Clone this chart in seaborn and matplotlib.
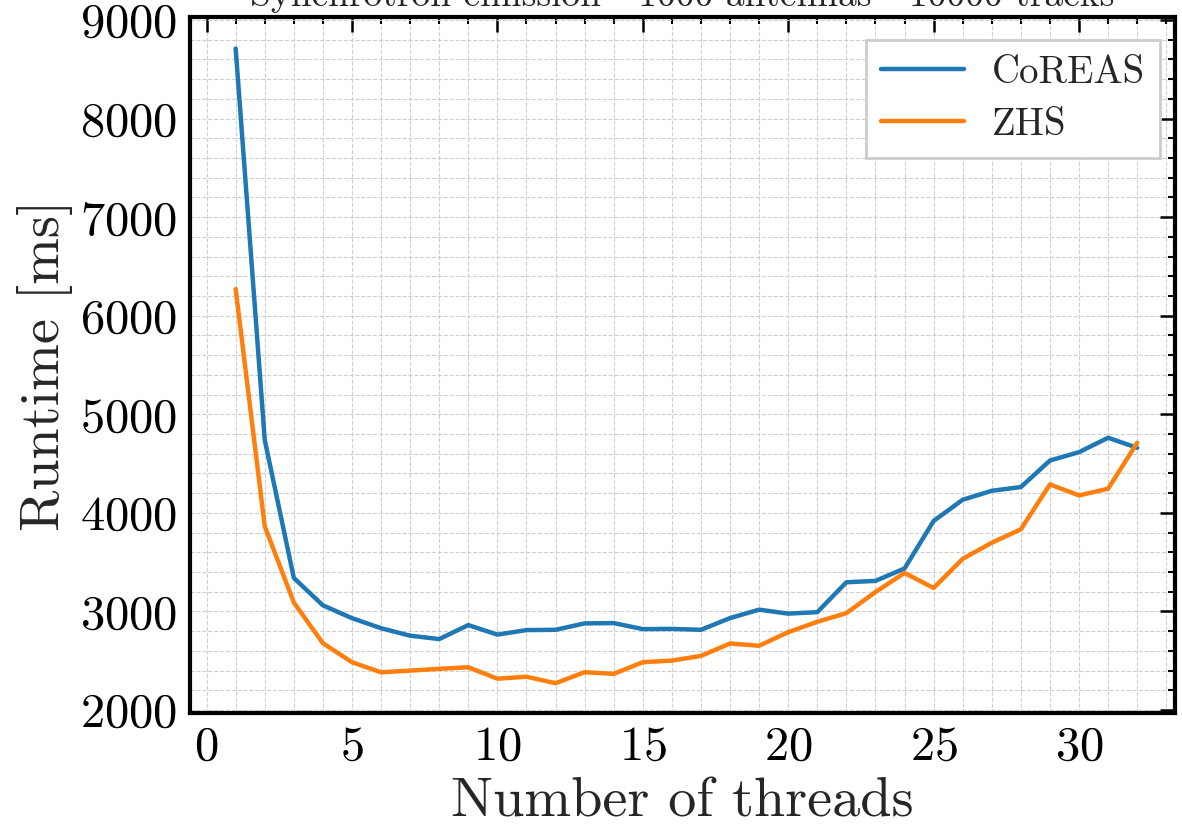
import numpy as np
import pandas as pd
import matplotlib
matplotlib.use("Agg")
import matplotlib.pyplot as plt
from matplotlib.ticker import MultipleLocator
import seaborn as sns

# Runtime per thread count for the two radio codes
threads = list(range(1, 33))
coreas_ms = [8710, 4740, 3340, 3062, 2932, 2830, 2754, 2720, 2862, 2765,
             2811, 2814, 2879, 2882, 2821, 2823, 2814, 2933, 3018, 2978,
             2993, 3296, 3310, 3436, 3918, 4133, 4224, 4262, 4531, 4616,
             4762, 4660]
zhs_ms = [6270, 3864, 3091, 2678, 2485, 2383, 2400, 2418, 2434, 2318,
          2338, 2272, 2384, 2367, 2485, 2502, 2549, 2675, 2652, 2790,
          2895, 2983, 3197, 3391, 3238, 3534, 3697, 3833, 4289, 4177,
          4245, 4711]
codes = ["CoREAS", "ZHS"]
colors = ["#1f77b4", "#ff7f0e"]

title = "Synchrotron emission - 1000 antennas - 10000 tracks"
xlabel = "Number of threads"
ylabel = "Runtime [ms]"

df = pd.DataFrame({
    "threads": threads * 2,
    "runtime": coreas_ms + zhs_ms,
    "code": [codes[0]] * len(threads) + [codes[1]] * len(threads),
})

sns.set_style("white")
plt.rcParams["font.family"] = ["cmr10"]
plt.rcParams["mathtext.fontset"] = "cm"
plt.rcParams["axes.formatter.use_mathtext"] = True

fig = plt.figure(figsize=(11.82, 8.38), dpi=100)
ax = fig.add_axes([190 / 1182, 1 - 713 / 838, 985 / 1182, 696 / 838])

sns.lineplot(data=df, x="threads", y="runtime", hue="code",
             palette=dict(zip(codes, colors)), linewidth=3.2, ax=ax)

ax.set_xlim(-0.57, 33.3)
ax.set_ylim(1970, 9030)
ax.xaxis.set_major_locator(MultipleLocator(5))
ax.xaxis.set_minor_locator(MultipleLocator(1))
ax.yaxis.set_major_locator(MultipleLocator(1000))
ax.yaxis.set_minor_locator(MultipleLocator(200))

ax.grid(which="both", linestyle="--", color="#cfcfcf", linewidth=0.8)
ax.set_axisbelow(True)

for sp in ax.spines.values():
    sp.set_linewidth(3.0)
    sp.set_color("black")

ax.tick_params(which="both", direction="in", top=True, right=True,
               labelsize=35, colors="black")
ax.tick_params(which="major", length=11, width=1.8, pad=9)
ax.tick_params(which="minor", length=5, width=1.5)

ax.set_xlabel(xlabel, fontsize=40.5, labelpad=6)
ax.set_ylabel(ylabel, fontsize=40.5, labelpad=5)
ax.set_title(title, fontsize=27, pad=8)

leg = ax.legend(loc="upper right", bbox_to_anchor=(0.9848, 0.967),
                borderaxespad=0, fontsize=28, frameon=True, fancybox=False,
                handlelength=2.15, borderpad=0.38, labelspacing=0.42,
                handletextpad=0.72)
leg.get_frame().set_edgecolor("#cccccc")
leg.get_frame().set_linewidth(2.0)
leg.get_frame().set_alpha(1.0)
for line in leg.get_lines():
    line.set_linewidth(3.2)

fig.savefig("out.png", dpi=100)
